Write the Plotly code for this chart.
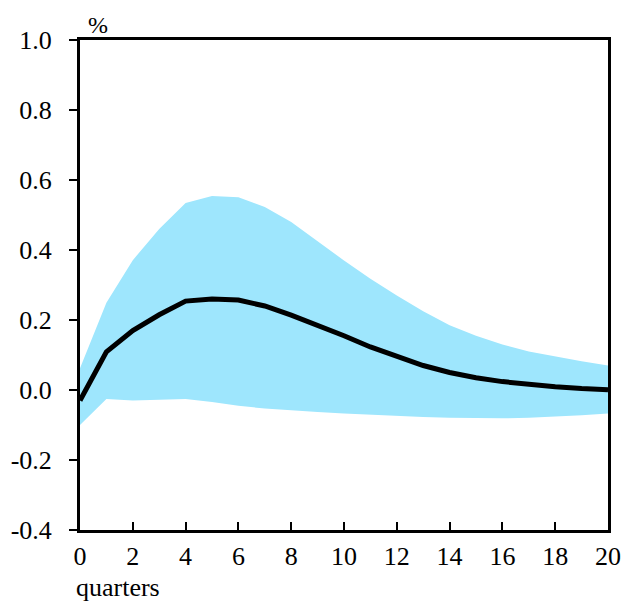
import plotly.graph_objects as go

# horizon in quarters
quarters = list(range(21))

# central response (%)
response = [-0.03, 0.109, 0.17, 0.215, 0.254, 0.26, 0.257, 0.24, 0.214, 0.186,
            0.155, 0.123, 0.096, 0.07, 0.05, 0.035, 0.024, 0.015, 0.009, 0.004, 0.001]

# confidence band
band_upper = [0.062, 0.249, 0.371, 0.46, 0.534, 0.554, 0.551, 0.523, 0.48, 0.425,
              0.37, 0.318, 0.27, 0.225, 0.185, 0.155, 0.13, 0.11, 0.095, 0.082, 0.07]
band_lower = [-0.1, -0.026, -0.03, -0.029, -0.026, -0.034, -0.045, -0.053, -0.059, -0.063,
              -0.067, -0.071, -0.074, -0.077, -0.079, -0.081, -0.081, -0.079, -0.076, -0.072, -0.067]

y_ticks = [-0.4, -0.2, 0.0, 0.2, 0.4, 0.6, 0.8, 1.0]
y_labels = ["-0.4", "-0.2", "0.0", "0.2", "0.4", "0.6", "0.8", "1.0"]
x_ticks = list(range(0, 21, 2))

band_color = "#9ee6fd"
font = "Liberation Serif, Times New Roman, serif"

fig = go.Figure()
fig.add_trace(go.Scatter(x=quarters, y=band_lower, mode="lines",
                         line=dict(width=0, color=band_color), hoverinfo="skip"))
fig.add_trace(go.Scatter(x=quarters, y=band_upper, mode="lines", fill="tonexty",
                         fillcolor=band_color, line=dict(width=0, color=band_color),
                         hoverinfo="skip"))
fig.add_trace(go.Scatter(x=quarters, y=response, mode="lines",
                         line=dict(width=5, color="black")))

fig.update_layout(
    width=625, height=610,
    margin=dict(l=80, r=17, t=40, b=80),
    plot_bgcolor="white", paper_bgcolor="white",
    showlegend=False,
    font=dict(family=font, size=26, color="black"),
    xaxis=dict(range=[0, 20], tickvals=x_ticks, ticks="inside", ticklen=8, tickwidth=2,
               tickcolor="black", showline=True, linewidth=3, linecolor="black",
               mirror=True, showgrid=False, zeroline=False, automargin=False,
               ticklabelstandoff=1, ticklabeloverflow="allow"),
    yaxis=dict(range=[-0.4, 1.0], tickvals=y_ticks, ticktext=y_labels, ticks="outside",
               ticklen=8, tickwidth=2, tickcolor="black", showline=True, linewidth=3,
               linecolor="black", mirror=True, showgrid=False, zeroline=True,
               zerolinecolor="black", zerolinewidth=2, layer="above traces",
               automargin=False, ticklabelstandoff=12),
    annotations=[
        dict(text="%", xref="paper", yref="paper", x=0.012, y=1.0, xanchor="left",
             yanchor="bottom", showarrow=False, font=dict(size=24)),
        dict(text="quarters", xref="paper", yref="paper", x=-0.012, y=-0.083,
             xanchor="left", yanchor="top", showarrow=False, font=dict(size=26)),
    ],
)

# drop the default 8px body margin so the figure fills the window exactly
fig.write_html("out.html", config={"displayModeBar": False},
               post_script="document.body.style.margin='0';")
